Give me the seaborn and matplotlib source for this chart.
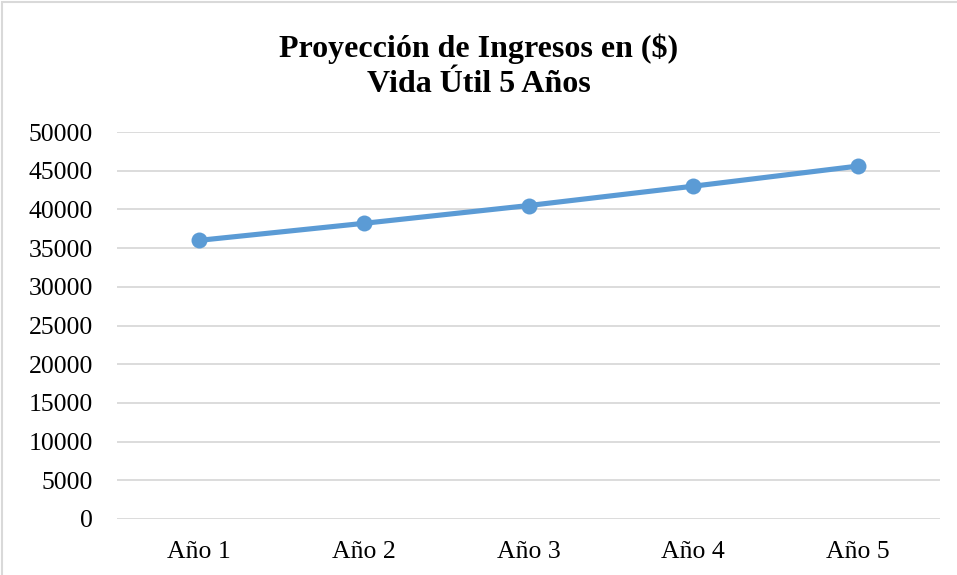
import matplotlib
matplotlib.use("Agg")
import matplotlib.pyplot as plt
import seaborn as sns
import pandas as pd
from matplotlib.patches import Rectangle

categories = ["Año 1", "Año 2", "Año 3", "Año 4", "Año 5"]
ingresos = [36000, 38200, 40500, 43000, 45600]
yticks = [0, 5000, 10000, 15000, 20000, 25000, 30000, 35000, 40000, 45000, 50000]

df = pd.DataFrame({"Año": categories, "Ingresos": ingresos})

sns.set_style("white")
plt.rcParams["font.family"] = ["Liberation Serif", "DejaVu Serif"]
plt.rcParams["text.color"] = "black"
plt.rcParams["xtick.color"] = "black"
plt.rcParams["ytick.color"] = "black"

fig = plt.figure(figsize=(9.57, 5.75), dpi=100)
ax = fig.add_axes([0.1218, 0.0974, 0.8609, 0.673])

sns.lineplot(data=df, x="Año", y="Ingresos", ax=ax, color="#5B9BD5",
             linewidth=3.7, marker="o", markersize=11.5, markeredgewidth=0,
             sort=False, zorder=3)

ax.set_xlim(-0.5, 4.5)
ax.set_ylim(0, 50000)
ax.set_yticks(yticks)
ax.set_yticklabels([str(v) for v in yticks], fontsize=18.5, color="black")
ax.tick_params(axis="x", labelsize=18.5, length=0, pad=16, labelcolor="black")
ax.tick_params(axis="y", length=0, pad=17, labelcolor="black")
ax.grid(axis="y", color="#D9D9D9", linewidth=1.3)
ax.grid(axis="x", visible=False)
for s in ax.spines.values():
    s.set_visible(False)
ax.set_xlabel("")
ax.set_ylabel("")

fig.text(0.5, 0.885, "Proyección de Ingresos en ($)\nVida Útil 5 Años",
         ha="center", va="center", fontsize=23, fontweight="bold",
         linespacing=1.28, color="black")

fig.patches.append(Rectangle((0.002, -0.01), 1.2, 1.0073, transform=fig.transFigure,
                             fill=False, edgecolor="#D9D9D9", linewidth=1.5))

fig.savefig("out.png", dpi=100)
